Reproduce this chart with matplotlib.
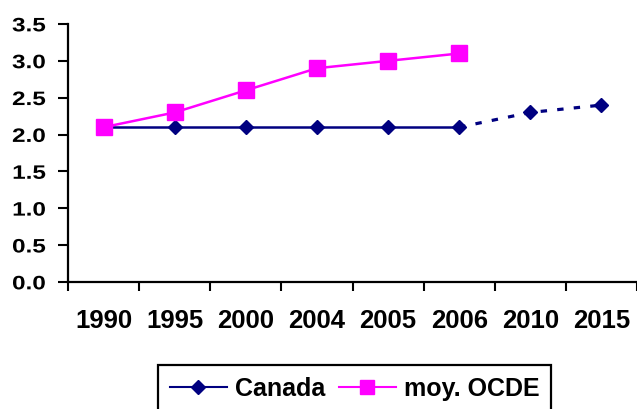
import matplotlib.pyplot as plt
from matplotlib.patheffects import AbstractPathEffect
from matplotlib.transforms import Affine2D

years = ["1990", "1995", "2000", "2004", "2005", "2006", "2010", "2015"]
canada = [2.1, 2.1, 2.1, 2.1, 2.1, 2.1, 2.3, 2.4]
ocde = [2.1, 2.3, 2.6, 2.9, 3.0, 3.1]
n_obs = 6  # observed Canada values, the rest are projections


class Squash(AbstractPathEffect):
    # flatten text vertically around its own middle (y labels look squashed)
    def __init__(self, sy):
        super().__init__()
        self.sy = sy

    def draw_path(self, renderer, gc, tpath, affine, rgbFace=None):
        ext = tpath.get_extents()
        cy = (ext.y0 + ext.y1) / 2
        t = Affine2D().translate(0, -cy).scale(1, self.sy).translate(0, cy) + affine
        renderer.draw_path(gc, tpath, t, rgbFace)


plt.rcParams['font.family'] = ['Liberation Sans', 'DejaVu Sans']
plt.rcParams['font.weight'] = 'bold'

fig = plt.figure(figsize=(6.37, 4.10), dpi=100)
ax = fig.add_axes([68 / 637, 1 - 283 / 410, 1 - 68 / 637, (283 - 25) / 410])

x = list(range(len(years)))

ax.plot(x[:n_obs], canada[:n_obs], color='#000080', lw=1.8, zorder=2)
ax.plot(x[n_obs - 1:], canada[n_obs - 1:], color='#000080', lw=2.3,
        ls=(0, (2, 3.2)), zorder=2)
ax.plot(x, canada, color='#000080', ls='none', marker='D', ms=7.6, zorder=3)

ax.plot(x[:len(ocde)], ocde, color='#FF00FF', lw=1.8, marker='s', ms=11,
        zorder=4)

# legend handles
h1, = ax.plot([], [], color='#000080', lw=1.5, marker='D', ms=7)
h2, = ax.plot([], [], color='#FF00FF', lw=1.5, marker='s', ms=9.5)
leg = fig.legend([h1, h2], ['Canada', 'moy. OCDE'], loc='upper center',
                 bbox_to_anchor=(354.5 / 637, 1 - 366 / 410), ncol=2,
                 fontsize=18, handlelength=2.3, columnspacing=0.55,
                 handletextpad=0.3, borderpad=0.45, borderaxespad=0,
                 fancybox=False, edgecolor='black', framealpha=1)
leg.get_frame().set_linewidth(1.6)

ax.set_xlim(-0.5, 7.45)
ax.set_ylim(0, 3.5)
yt = [0, 0.5, 1.0, 1.5, 2.0, 2.5, 3.0, 3.5]
ax.set_yticks(yt)
ax.set_yticklabels([f"{v:.1f}" for v in yt], fontsize=17.5, fontweight='bold')
for lbl in ax.get_yticklabels():
    lbl.set_path_effects([Squash(0.8)])

ax.set_xticks([i - 0.5 for i in range(len(years) + 1)])
ax.set_xticklabels([])
ax.set_xticks(x, minor=True)
ax.set_xticklabels(years, minor=True, fontsize=18.5, fontweight='bold')
ax.tick_params(axis='x', which='minor', length=0, pad=19)
ax.tick_params(axis='x', which='major', direction='out', length=6.5, width=1.5)
ax.tick_params(axis='y', direction='out', length=7, width=1.5, pad=9)

for s in ['top', 'right']:
    ax.spines[s].set_visible(False)
for s in ['left', 'bottom']:
    ax.spines[s].set_linewidth(1.6)

fig.savefig('out.png', dpi=100)
